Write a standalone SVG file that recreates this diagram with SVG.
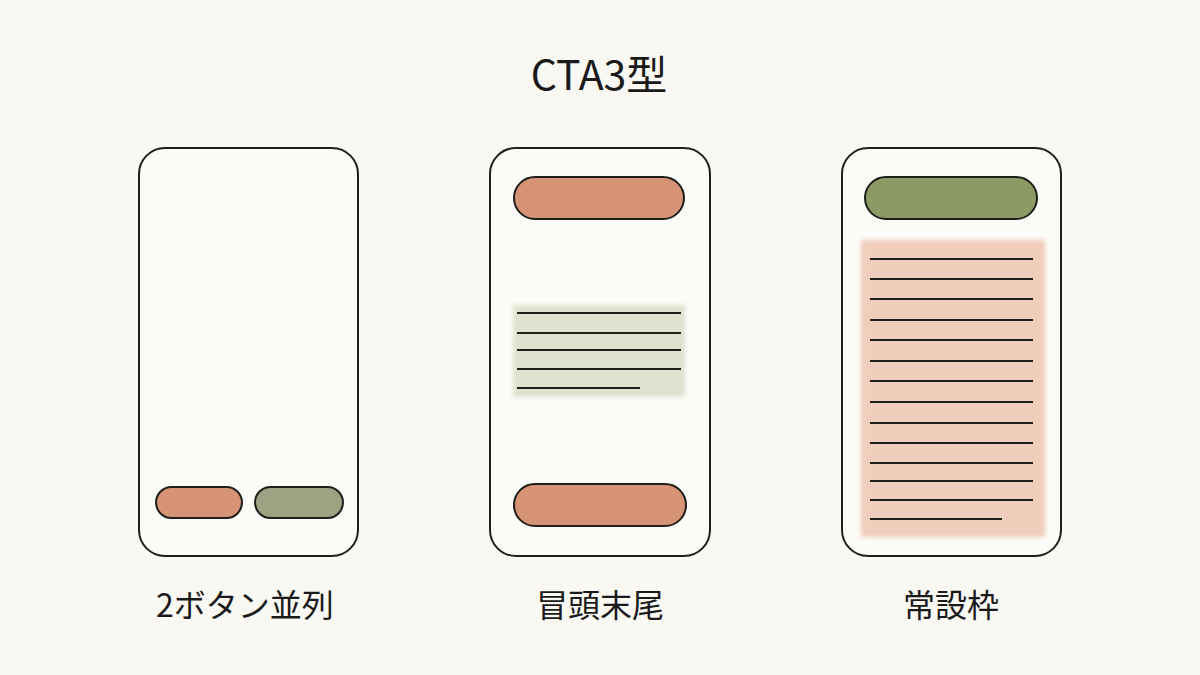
<svg xmlns="http://www.w3.org/2000/svg" width="1200" height="675" viewBox="0 0 1200 675">
<defs>
<filter id="wash" x="-10%" y="-10%" width="120%" height="120%"><feGaussianBlur stdDeviation="2"/></filter>
</defs>
<style>
.phone{fill:#fbfbf7;stroke:#1e1e1a;stroke-width:2}
.pill{stroke:#1e1e1a;stroke-width:2}
.org{fill:#d69375}
.grn{fill:#8c9b66}
.gry{fill:#9ea283}
.ln{stroke:#1e1e1a;stroke-width:1.8;fill:none}
.t{font-family:"Noto Sans CJK JP","Noto Sans",sans-serif;fill:#1a1a1a;text-anchor:middle}
</style>
<rect width="1200" height="675" fill="#f9f8f3"/>
<text class="t" x="599" y="90" font-size="41">CTA3型</text>
<g id="phone1">
<rect class="phone" x="139" y="148" width="219" height="408" rx="26"/>
<rect class="pill org" x="156" y="487" width="86" height="31" rx="15.5"/>
<rect class="pill gry" x="255" y="487" width="88" height="31" rx="15.5"/>
<text class="t" x="245" y="617" font-size="32">2ボタン並列</text>
</g>
<g id="phone2">
<rect class="phone" x="490" y="148" width="220" height="408" rx="26"/>
<rect class="pill org" x="514" y="177" width="170" height="42" rx="21"/>
<rect x="513" y="305" width="172" height="92" fill="#dfe2cf" filter="url(#wash)"/>
<path class="ln" d="M517 313H681M517 333H681M517 350H681M517 369H681M517 388H640"/>
<rect class="pill org" x="514" y="484" width="172" height="42" rx="21"/>
<text class="t" x="600" y="617" font-size="32">冒頭末尾</text>
</g>
<g id="phone3">
<rect class="phone" x="842" y="148" width="219" height="408" rx="26"/>
<rect class="pill grn" x="865" y="177" width="172" height="42" rx="21"/>
<rect x="861" y="240" width="184" height="297" fill="#f1cdbb" filter="url(#wash)"/>
<path class="ln" d="M870 259H1033M870 279H1033M870 299H1033M870 320H1033M870 340H1033M870 361H1033M870 381H1033M870 402H1033M870 423H1033M870 443H1033M870 463H1033M870 481H1033M870 500H1033M870 519H1002"/>
<text class="t" x="951" y="617" font-size="32">常設枠</text>
</g>
<g id="connectors"/>
</svg>
